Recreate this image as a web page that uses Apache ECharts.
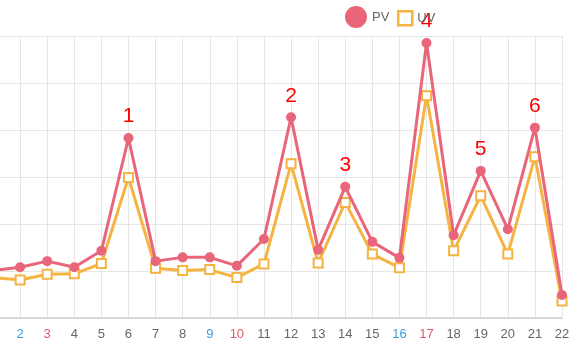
<!DOCTYPE html>
<html>
<head>
<meta charset="utf-8">
<style>
  html, body { margin: 0; padding: 0; background: #fff; overflow: hidden; }
  /* the plot starts slightly left of the page so day 1 sits just off the edge */
  #chart { position: absolute; left: -7px; top: 0; width: 576px; height: 350px; }
</style>
<script src="https://cdn.jsdelivr.net/npm/echarts@6/dist/echarts.min.js"></script>
</head>
<body>
<div id="chart"></div>
<script>
// Days of the month shown on the x axis
const days = ['1','2','3','4','5','6','7','8','9','10','11','12','13','14','15','16','17','18','19','20','21','22'];
// Daily page views and unique visitors
const pvValues = [101, 108, 121, 108, 143, 383, 121, 129, 129, 111, 168, 427, 145, 279, 162, 128, 585, 176, 313, 189, 405, 49];
const uvValues = [86, 81, 93, 94, 116, 299, 106, 101, 103, 86, 115, 328, 117, 246, 136, 107, 473, 143, 260, 136, 343, 36];
// Rank markers placed above the peak days
const peakRanks = ['', '', '', '', '', '1', '', '', '', '', '', '2', '', '3', '', '', '4', '', '5', '', '6', ''];
// Weekend days get coloured axis labels
const saturdays = ['2', '9', '16'];
const sundays = ['3', '10', '17'];

const PV_COLOR = '#e8657a';
const UV_COLOR = '#f5b342';
const FONT = '"Liberation Sans", Arial, sans-serif';

const chart = echarts.init(document.getElementById('chart'), null, { renderer: 'canvas' });

chart.setOption({
  animation: false,
  textStyle: { fontFamily: FONT },
  legend: [
    {
      data: [{ name: 'PV', icon: 'circle' }],
      left: 347, top: 1,
      itemWidth: 22, itemHeight: 22, itemGap: 5,
      textStyle: { color: '#666', fontSize: 13, fontFamily: FONT }
    },
    {
      data: [{ name: 'UV', icon: 'rect' }],
      left: 399, top: 5,
      itemWidth: 14, itemHeight: 14, itemGap: 5,
      itemStyle: { color: '#fff', borderColor: UV_COLOR, borderWidth: 2.5 },
      textStyle: { color: '#666', fontSize: 13, fontFamily: FONT }
    }
  ],
  grid: { left: 0, right: 7, top: 36, bottom: 32, containLabel: false, outerBoundsMode: 'none' },
  xAxis: {
    type: 'category',
    data: days,
    boundaryGap: false,
    axisLine: { lineStyle: { color: '#cfcfcf', width: 1.5 } },
    axisTick: { show: false },
    axisLabel: {
      fontSize: 13,
      margin: 10,
      fontFamily: FONT,
      color: function (value) {
        if (saturdays.indexOf(value) >= 0) return '#3a9de0';
        if (sundays.indexOf(value) >= 0) return '#e05a6e';
        return '#666';
      }
    },
    splitLine: { show: true, lineStyle: { color: '#e6e6e6' } }
  },
  yAxis: {
    type: 'value',
    min: 0, max: 600, interval: 100,
    axisLine: { show: false },
    axisTick: { show: false },
    axisLabel: { show: false },
    splitLine: { show: true, lineStyle: { color: '#e6e6e6' } }
  },
  series: [
    {
      name: 'PV',
      type: 'line',
      data: pvValues,
      symbol: 'circle',
      symbolSize: 10,
      lineStyle: { color: PV_COLOR, width: 3 },
      itemStyle: { color: PV_COLOR },
      label: {
        show: true,
        position: 'top',
        distance: 6,
        color: '#ff0000',
        fontSize: 21,
        fontFamily: FONT,
        formatter: function (p) { return peakRanks[p.dataIndex]; }
      },
      z: 3
    },
    {
      name: 'UV',
      type: 'line',
      data: uvValues,
      symbol: 'rect',
      symbolSize: 9,
      lineStyle: { color: UV_COLOR, width: 3 },
      itemStyle: { color: '#fff', borderColor: UV_COLOR, borderWidth: 2 },
      z: 2
    }
  ]
});
</script>
</body>
</html>
